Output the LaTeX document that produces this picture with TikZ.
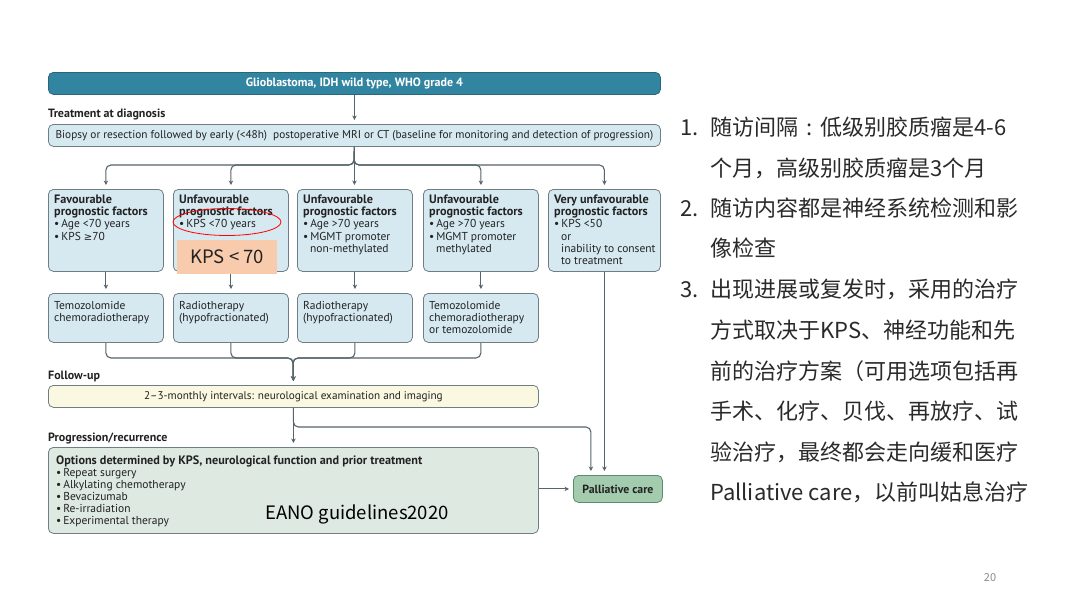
\documentclass[tikz,border=0pt]{standalone}
\usepackage{fontspec}
\setmainfont{PT Sans}
\newfontfamily\cjk{Noto Sans CJK SC}
\newfontfamily\dv{DejaVu Sans}
\usetikzlibrary{arrows.meta}
\definecolor{hdrteal}{HTML}{3285A1}
\definecolor{hdrline}{HTML}{2A6579}
\definecolor{boxblue}{HTML}{D6E9F0}
\definecolor{boxline}{HTML}{6F7E84}
\definecolor{fucream}{HTML}{FBF8E1}
\definecolor{proggreen}{HTML}{DDE9E1}
\definecolor{palgreen}{HTML}{A3CBAE}
\definecolor{palline}{HTML}{5F8A6C}
\definecolor{arrowgray}{HTML}{55656B}
\definecolor{txt}{HTML}{222222}
\definecolor{peach}{HTML}{F8CBAD}
\definecolor{cjktext}{HTML}{2A2A2A}
\tikzset{
  box/.style={draw=boxline, line width=0.8pt, rounded corners=5pt, fill=boxblue, anchor=north west, inner sep=0pt},
  btxt/.style={anchor=north west, align=left, inner sep=0pt, font=\fontsize{11.5}{12.3}\selectfont, text=txt},
  arr/.style={draw=arrowgray, line width=1.1pt, -{Stealth[length=4.5pt,width=4.5pt]}, rounded corners=5pt, shorten >=4pt},
  sect/.style={anchor=west, inner sep=0pt, font=\fontsize{12}{13}\selectfont\bfseries, text=txt},
  cjkline/.style={anchor=base west, inner sep=0pt, font=\cjk\fontsize{22}{26}\selectfont, text=cjktext},
}
\newcommand\bul{•\,}
\newcommand\hb[1]{{\fontsize{12.2}{12.3}\selectfont\bfseries #1}}
\newcommand\geqsym{{\dv\fontsize{10}{12}\selectfont ≥}}
\begin{document}
\begin{tikzpicture}[x=1pt,y=-1pt]
\useasboundingbox (0,0) rectangle (1080,608);
\fill[white] (0,0) rectangle (1080,608);

% header and biopsy
\node[box, fill=hdrteal, draw=hdrline, minimum width=612, minimum height=22, font=\fontsize{12}{13}\selectfont\bfseries, text=white] (hdr) at (48,72) {Glioblastoma, IDH wild type, WHO grade 4};
\node[sect] (s1) at (48,115) {Treatment at diagnosis};
\node[box, minimum width=612, minimum height=22, font=\fontsize{11.3}{12}\selectfont, text=txt] (bio) at (48,124) {Biopsy or resection followed by early (<48h)~ postoperative MRI or CT (baseline for monitoring and detection of progression)};

% prognostic boxes
\node[box, minimum width=115, minimum height=82] (b1) at (48,189) {};
\node[box, minimum width=115, minimum height=82] (b2) at (173,189) {};
\node[box, minimum width=115, minimum height=82] (b3) at (297,189) {};
\node[box, minimum width=115, minimum height=82] (b4) at (423,189) {};
\node[box, minimum width=112, minimum height=82] (b5) at (548,189) {};
\node[btxt] (b1t) at ([xshift=6pt,yshift=-5.5pt]b1.north west) {\hb{Favourable}\\\hb{prognostic factors}\\\bul Age <70 years\\\bul KPS \geqsym70};
\node[btxt] (b2t) at ([xshift=6pt,yshift=-5.5pt]b2.north west) {\hb{Unfavourable}\\\hb{prognostic factors}\\\bul KPS <70 years};
\node[btxt] (b3t) at ([xshift=6pt,yshift=-5.5pt]b3.north west) {\hb{Unfavourable}\\\hb{prognostic factors}\\\bul Age >70 years\\\bul MGMT promoter\\\hspace*{7pt}non-methylated};
\node[btxt] (b4t) at ([xshift=6pt,yshift=-5.5pt]b4.north west) {\hb{Unfavourable}\\\hb{prognostic factors}\\\bul Age >70 years\\\bul MGMT promoter\\\hspace*{7pt}methylated};
\node[btxt] (b5t) at ([xshift=6pt,yshift=-5.5pt]b5.north west) {\hb{Very unfavourable}\\\hb{prognostic factors}\\\bul KPS <50\\\hspace*{7pt}or\\\hspace*{7pt}inability to consent\\\hspace*{7pt}to treatment};

% treatment boxes
\node[box, minimum width=115, minimum height=49] (t1) at (48,293) {};
\node[box, minimum width=115, minimum height=49] (t2) at (173,293) {};
\node[box, minimum width=115, minimum height=49] (t3) at (297,293) {};
\node[box, minimum width=115, minimum height=49] (t4) at (423,293) {};
\node[btxt] (t1t) at ([xshift=6pt,yshift=-8pt]t1.north west) {Temozolomide\\chemoradiotherapy};
\node[btxt] (t2t) at ([xshift=6pt,yshift=-8pt]t2.north west) {Radiotherapy\\(hypofractionated)};
\node[btxt] (t3t) at ([xshift=6pt,yshift=-8pt]t3.north west) {Radiotherapy\\(hypofractionated)};
\node[btxt] (t4t) at ([xshift=6pt,yshift=-8pt]t4.north west) {Temozolomide\\chemoradiotherapy\\or temozolomide};

% follow-up
\node[sect] (s2) at (48,376) {Follow-up};
\node[box, fill=fucream, minimum width=490, minimum height=22, font=\fontsize{11.2}{12}\selectfont, text=txt] (fu) at (48,385) {2–3-monthly intervals: neurological examination and imaging};

% progression
\node[sect] (s3) at (48,438) {Progression/recurrence};
\node[box, fill=proggreen, minimum width=490, minimum height=86] (prog) at (48,447) {};
\node[btxt, font=\fontsize{11.5}{12}\selectfont] (progt) at ([xshift=8pt,yshift=-8.5pt]prog.north west) {\hb{Options determined by KPS, neurological function and prior treatment}\\\bul Repeat surgery\\\bul Alkylating chemotherapy\\\bul Bevacizumab\\\bul Re-irradiation\\\bul Experimental therapy};
\node[box, fill=palgreen, draw=palline, minimum width=89, minimum height=27, font=\fontsize{11.8}{12}\selectfont\bfseries, text=txt] (pal) at (573,475) {Palliative care};

% connectors
\coordinate (tb) at (354,165);
\coordinate (bb) at (293,358);
\coordinate (bj) at (293,427);
\draw[arr] (hdr.south) -- (bio.north);
\draw[arr] (bio.south) -- (tb) -| (b1.north);
\draw[arr] (bio.south) -- (tb) -| (b2.north);
\draw[arr] (bio.south) -- (bio.south |- b3.north);
\draw[arr] (bio.south) -- (tb) -| (b4.north);
\draw[arr] (bio.south) -- (tb) -| (b5.north);
\draw[arr] (b1.south) -- (t1.north);
\draw[arr] (b2.south) -- (t2.north);
\draw[arr] (b3.south) -- (t3.north);
\draw[arr] (b4.south) -- (t4.north);
\draw[arr] (t1.south) |- (bb) -- (fu.north);
\draw[arr] (t2.south) |- (bb) -- (fu.north);
\draw[arr] (t3.south) |- (bb) -- (fu.north);
\draw[arr] (t4.south) |- (bb) -- (fu.north);
\draw[arr] (fu.south) -- (prog.north);
\draw[arr] (fu.south) |- ([xshift=-27pt]pal.north |- bj) -- ([xshift=-27pt]pal.north);
\draw[arr] (b5.south) -- (b5.south |- pal.north);
\draw[arr] (prog.east |- pal.west) -- (pal.west);

% overlays
\draw[red, line width=0.8pt] (227,222) ellipse [x radius=54, y radius=13.5];
\node[fill=peach, minimum width=100, minimum height=34, anchor=north west, inner sep=0pt, font=\cjk\fontsize{18.5}{20}\selectfont, text=txt] (kps) at (177,240) {KPS < 70};
\node[inner sep=0pt, font=\cjk\fontsize{18.5}{20}\selectfont, text=black] (eano) at (357,514) {EANO guidelines2020};

% right text
\node[cjkline] (n1) at (680,135) {1.};
\node[cjkline] (l1) at (710,135) {随访间隔\hspace{8pt}:\hspace{8pt}低级别胶质瘤是4-6};
\node[cjkline] (l2) at (710,176) {个月，高级别胶质瘤是3个月};
\node[cjkline] (n2) at (680,216) {2.};
\node[cjkline] (l3) at (710,216) {随访内容都是神经系统检测和影};
\node[cjkline] (l4) at (710,256) {像检查};
\node[cjkline] (n3) at (680,297) {3.};
\node[cjkline] (l5) at (710,297) {出现进展或复发时，采用的治疗};
\node[cjkline] (l6) at (710,338) {方式取决于KPS、神经功能和先};
\node[cjkline] (l7) at (710,379) {前的治疗方案（可用选项包括再};
\node[cjkline] (l8) at (710,419) {手术、化疗、贝伐、再放疗、试};
\node[cjkline] (l9) at (710,460) {验治疗，最终都会走向缓和医疗};
\node[cjkline] (l10) at (710,500) {Palliative care，以前叫姑息治疗};

\node[inner sep=0pt, font=\cjk\fontsize{11}{13}\selectfont, text=black!45] (pg) at (990,578) {20};
\end{tikzpicture}
\end{document}
